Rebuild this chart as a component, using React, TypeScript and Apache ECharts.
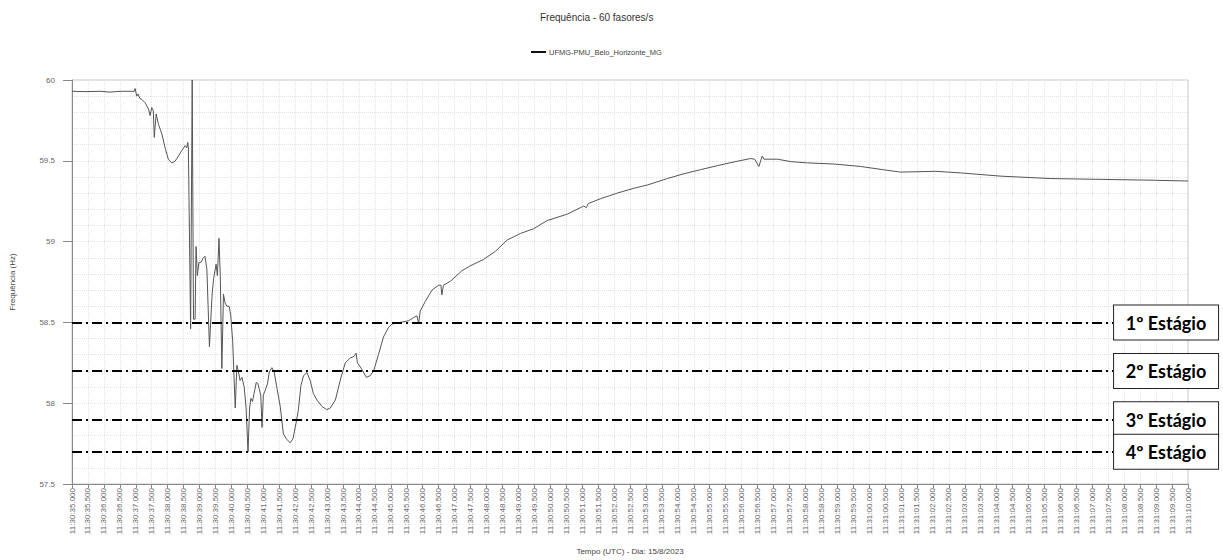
import React, { useEffect, useRef } from "react";
import * as echarts from "echarts";

const titleText = "Frequência - 60 fasores/s";
const seriesName = "UFMG-PMU_Belo_Horizonte_MG";
const yAxisName = "Frequência (Hz)";
const xAxisName = "Tempo (UTC) - Dia: 15/8/2023";

// seconds after 11:30:35.000
const times = [
  0, 0.41, 0.88, 1.19, 1.51, 1.82, 1.95, 1.98, 2.03, 2.07, 2.13, 2.19, 2.29, 2.4, 2.45, 2.5, 2.55, 2.58, 2.64, 2.71,
  2.82, 2.92, 3.02, 3.13, 3.23, 3.34, 3.44, 3.55, 3.6, 3.63, 3.65, 3.72, 3.77, 3.81, 3.86, 3.89, 3.93, 3.98, 4.04,
  4.12, 4.17, 4.23, 4.31, 4.39, 4.44, 4.52, 4.56, 4.61, 4.65, 4.7, 4.75, 4.8, 4.86, 4.93, 4.98, 5.04, 5.08, 5.12,
  5.17, 5.22, 5.27, 5.33, 5.4, 5.46, 5.52, 5.57, 5.61, 5.66, 5.71, 5.78, 5.83, 5.87, 5.92, 5.96, 6.0, 6.06, 6.13,
  6.19, 6.27, 6.34, 6.43, 6.53, 6.63, 6.72, 6.84, 6.93, 7.03, 7.1, 7.18, 7.26, 7.37, 7.47, 7.57, 7.68, 7.84, 7.99,
  8.1, 8.26, 8.41, 8.57, 8.73, 8.85, 8.91, 8.95, 9.09, 9.23, 9.35, 9.46, 9.61, 9.77, 9.93, 10.04, 10.3, 10.56,
  10.71, 10.82, 10.87, 10.92, 11.08, 11.29, 11.5, 11.57, 11.6, 11.65, 11.87, 12.23, 12.49, 12.91, 13.28, 13.65,
  14.06, 14.48, 14.9, 15.53, 16.05, 16.13, 16.19, 16.57, 17.1, 17.62, 18.04, 18.67, 19.19, 19.71, 20.24, 20.76,
  21.28, 21.41, 21.54, 21.65, 21.7, 22.12, 22.54, 23.06, 23.9, 24.73, 25.47, 25.99, 27.09, 27.87, 29.13, 30.7,
  32.27, 33.84, 35.0,
];

const freq = [
  59.93, 59.928, 59.93, 59.925, 59.93, 59.93, 59.93, 59.947, 59.9, 59.914, 59.885, 59.88, 59.86, 59.82, 59.78,
  59.83, 59.81, 59.645, 59.79, 59.726, 59.665, 59.58, 59.51, 59.487, 59.497, 59.53, 59.563, 59.594, 59.58, 59.614,
  59.58, 58.46, 60.0, 58.52, 58.52, 58.97, 58.79, 58.87, 58.87, 58.9, 58.91, 58.83, 58.35, 58.66, 58.77, 58.86,
  58.79, 59.02, 58.79, 58.215, 58.675, 58.62, 58.6, 58.6, 58.54, 58.38, 58.17, 57.97, 58.235, 58.195, 58.14, 58.16,
  58.1, 57.97, 57.7, 57.97, 58.03, 58.01, 58.06, 58.13, 58.12, 58.09, 58.05, 57.85, 58.05, 58.08, 58.12, 58.195,
  58.22, 58.195, 58.09, 57.98, 57.81, 57.78, 57.755, 57.78, 57.88, 57.96, 58.11, 58.17, 58.19, 58.14, 58.06, 58.02,
  57.98, 57.96, 57.97, 58.02, 58.14, 58.25, 58.28, 58.29, 58.31, 58.25, 58.21, 58.16, 58.17, 58.2, 58.3, 58.41,
  58.47, 58.49, 58.5, 58.51, 58.53, 58.54, 58.49, 58.57, 58.63, 58.7, 58.73, 58.73, 58.67, 58.73, 58.755, 58.82,
  58.85, 58.89, 58.94, 59.01, 59.05, 59.08, 59.13, 59.17, 59.22, 59.21, 59.235, 59.265, 59.3, 59.33, 59.35, 59.39,
  59.42, 59.445, 59.47, 59.493, 59.514, 59.51, 59.465, 59.53, 59.51, 59.51, 59.495, 59.487, 59.48, 59.465, 59.444,
  59.43, 59.435, 59.425, 59.405, 59.39, 59.385, 59.38, 59.375,
];

const tickLabels = [
  "11:30:35.000", "11:30:35.500", "11:30:36.000", "11:30:36.500", "11:30:37.000", "11:30:37.500",
  "11:30:38.000", "11:30:38.500", "11:30:39.000", "11:30:39.500", "11:30:40.000", "11:30:40.500",
  "11:30:41.000", "11:30:41.500", "11:30:42.000", "11:30:42.500", "11:30:43.000", "11:30:43.500",
  "11:30:44.000", "11:30:44.500", "11:30:45.000", "11:30:45.500", "11:30:46.000", "11:30:46.500",
  "11:30:47.000", "11:30:47.500", "11:30:48.000", "11:30:48.500", "11:30:49.000", "11:30:49.500",
  "11:30:50.000", "11:30:50.500", "11:30:51.000", "11:30:51.500", "11:30:52.000", "11:30:52.500",
  "11:30:53.000", "11:30:53.500", "11:30:54.000", "11:30:54.500", "11:30:55.000", "11:30:55.500",
  "11:30:56.000", "11:30:56.500", "11:30:57.000", "11:30:57.500", "11:30:58.000", "11:30:58.500",
  "11:30:59.000", "11:30:59.500", "11:31:00.000", "11:31:00.500", "11:31:01.000", "11:31:01.500",
  "11:31:02.000", "11:31:02.500", "11:31:03.000", "11:31:03.500", "11:31:04.000", "11:31:04.500",
  "11:31:05.000", "11:31:05.500", "11:31:06.000", "11:31:06.500", "11:31:07.000", "11:31:07.500",
  "11:31:08.000", "11:31:08.500", "11:31:09.000", "11:31:09.500", "11:31:10.000",
];

const stageLevels = [58.5, 58.2, 57.9, 57.7];
const stageLabels = ["1º Estágio", "2º Estágio", "3º Estágio", "4º Estágio"];
const stageLineEnd = 32.65;

export default function App() {
  const ref = useRef<HTMLDivElement>(null);

  useEffect(() => {
    if (!ref.current) return;
    const chart = echarts.init(ref.current, undefined, { renderer: "svg" });
    const data = times.map((t, i) => [t, freq[i]]);
    const font = "Liberation Sans, Arial, sans-serif";

    chart.setOption({
      animation: false,
      backgroundColor: "#fff",
      title: {
        text: titleText,
        left: 535,
        top: 7,
        textStyle: { fontSize: 10, fontWeight: "normal", color: "#333", fontFamily: font },
      },
      legend: {
        data: [seriesName],
        left: 526,
        top: 43,
        icon: "rect",
        itemWidth: 15,
        itemHeight: 2,
        itemGap: 4,
        itemStyle: { color: "#111" },
        textStyle: { fontSize: 7.5, color: "#444", fontFamily: font, padding: [0, 0, 0, -2] },
      },
      grid: {
        left: 72,
        right: 35,
        top: 80,
        bottom: 72,
        show: true,
        borderColor: "#c8c8c8",
        borderWidth: 1,
      },
      xAxis: {
        type: "value",
        min: 0,
        max: 35,
        interval: 0.5,
        name: xAxisName,
        nameLocation: "middle",
        nameGap: 63,
        nameTextStyle: { fontSize: 8, color: "#444", fontFamily: font },
        axisLine: { lineStyle: { color: "#888" } },
        axisTick: { show: true, length: 4, lineStyle: { color: "#888" } },
        axisLabel: {
          rotate: 90,
          fontSize: 8,
          color: "#666",
          fontFamily: font,
          margin: 4,
          formatter: (v: number) => tickLabels[Math.round(v * 2)] ?? "",
        },
        splitLine: { show: true, lineStyle: { color: "#e2e2e2", type: "dotted" } },
      },
      yAxis: {
        type: "value",
        min: 57.5,
        max: 60,
        interval: 0.5,
        name: yAxisName,
        nameLocation: "middle",
        nameRotate: 90,
        nameGap: 56,
        nameTextStyle: { fontSize: 8, color: "#444", fontFamily: font },
        axisLine: { show: true, lineStyle: { color: "#888" } },
        axisTick: { show: true, length: 9, lineStyle: { color: "#888" } },
        axisLabel: {
          fontSize: 8,
          color: "#666",
          fontFamily: font,
          margin: 17,
          formatter: (v: number) => String(v),
        },
        splitLine: { show: true, lineStyle: { color: "#e2e2e2", type: "dotted" } },
        minorTick: { show: false, splitNumber: 5 },
        minorSplitLine: { show: true, lineStyle: { color: "#e2e2e2", type: "dotted" } },
      },
      series: [
        {
          name: seriesName,
          type: "line",
          data,
          showSymbol: false,
          symbol: "none",
          lineStyle: { color: "#555", width: 1 },
          itemStyle: { color: "#555" },
          markLine: {
            silent: true,
            symbol: ["none", "none"],
            animation: false,
            lineStyle: { color: "#000", width: 2.2, type: [10, 4, 2, 4] },
            label: {
              show: true,
              position: "end",
              distance: 1,
              backgroundColor: "#fff",
              borderColor: "#222",
              borderWidth: 1,
              padding: [7, 0, 6, 0],
              rich: {
                s: {
                  width: 104,
                  align: "center",
                  lineHeight: 21,
                  fontFamily: "Lato, 'Open Sans', sans-serif",
                  fontWeight: "bold",
                  fontSize: 18,
                  color: "#000",
                },
              },
            },
            data: stageLevels.map((lvl, i) => [
              { coord: [0, lvl], label: { formatter: "{s|" + stageLabels[i] + "}" } },
              { coord: [stageLineEnd, lvl] },
            ]),
          },
        },
      ],
    });

    return () => chart.dispose();
  }, []);

  return (
    <div
      ref={ref}
      style={{ position: "fixed", left: 0, top: 0, width: 1223, height: 560, background: "#fff" }}
    />
  );
}
